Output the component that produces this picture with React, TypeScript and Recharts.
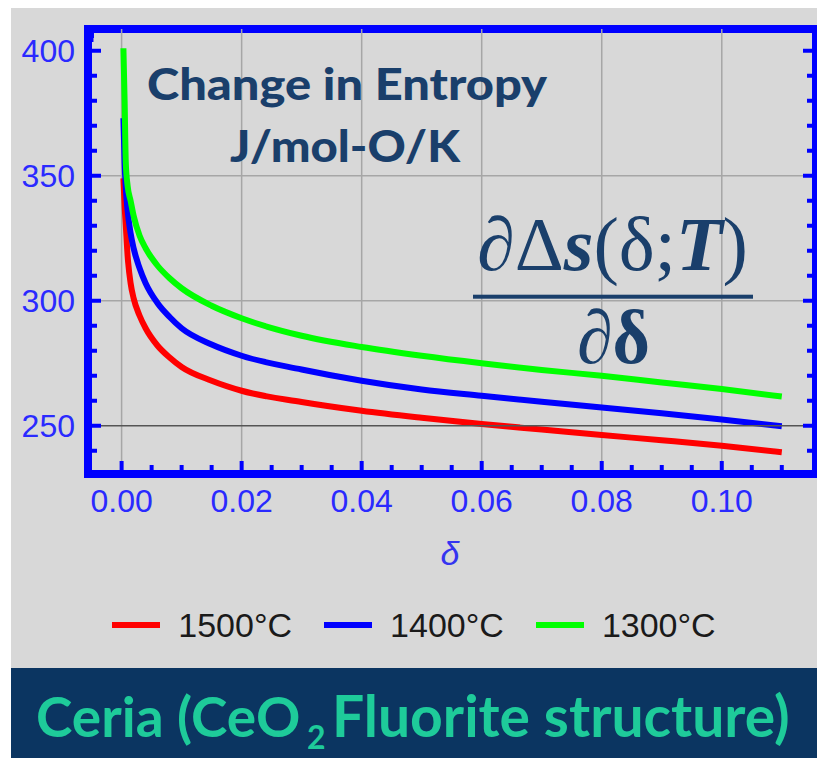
import { LineChart, Line, XAxis, YAxis, ReferenceLine, ReferenceArea, Legend } from 'recharts';

// delta (oxygen non-stoichiometry) sample points
const delta = [0.0003, 0.0005, 0.0007, 0.001, 0.0015, 0.002, 0.003, 0.004, 0.006, 0.008, 0.01, 0.015, 0.02, 0.03, 0.04, 0.05, 0.06, 0.07, 0.08, 0.09, 0.1, 0.11];

// d(delta S)/d(delta), J/mol-O/K
const s1500 = [349, 338, 330, 318, 307, 301, 294, 289, 282, 277.3, 273.5, 268, 264, 259.5, 256, 253.2, 250.7, 248.5, 246.3, 244.2, 242, 239.4];
const s1400 = [373, 355, 345, 336, 327, 321, 313, 307, 299, 293.5, 289, 282.5, 278, 272.5, 268, 264.5, 262, 259.6, 257.3, 255, 252.5, 249.8];
const s1300 = [401, 380, 355, 346, 340, 334, 326, 321, 314, 309, 305, 298, 293, 286, 281.5, 278, 275, 272.3, 270, 267.3, 264.7, 261.7];

const xTicks = [0, 0.005, 0.01, 0.015, 0.02, 0.025, 0.03, 0.035, 0.04, 0.045, 0.05, 0.055, 0.06, 0.065, 0.07, 0.075, 0.08, 0.085, 0.09, 0.095, 0.1, 0.105, 0.11];
const xMajor = [0, 0.02, 0.04, 0.06, 0.08, 0.1];
const yTicks = [240, 250, 260, 270, 280, 290, 300, 310, 320, 330, 340, 350, 360, 370, 380, 390, 400];
const yMajor = [250, 300, 350, 400];
const xGrid = [0, 0.02, 0.04, 0.06, 0.08, 0.1];
const yGrid = [300, 350];

const X_DOMAIN: [number, number] = [-0.0056, 0.1157];
const Y_DOMAIN: [number, number] = [230.7, 408.7];

const FRAME = '#0000ff';
const TICK_TEXT = '#2a2aff';
const TITLE = '#1a3f6b';
const BANNER_TEXT = '#1ecb9a';
const SANS = '"Liberation Sans", Arial, sans-serif';

const series = [
  { key: 't1500', name: '1500°C', color: '#ff0000' },
  { key: 't1400', name: '1400°C', color: '#0000ff' },
  { key: 't1300', name: '1300°C', color: '#00ff00' },
];

const data = delta.map((d, i) => ({ d, t1500: s1500[i], t1400: s1400[i], t1300: s1300[i] }));

const isIn = (list: number[], v: number) => list.some((t) => Math.abs(t - v) < 1e-9);

const BottomTick = ({ x, y, payload }: any) => {
  const major = isIn(xMajor, payload.value);
  return (
    <g>
      <line x1={x} y1={y} x2={x} y2={y - (major ? 13 : 9)} stroke={FRAME} strokeWidth={4} />
      {major && (
        <text x={x} y={y + 38} textAnchor="middle" fill={TICK_TEXT} fontSize={32} fontFamily={SANS}>
          {payload.value.toFixed(2)}
        </text>
      )}
    </g>
  );
};

const TopTick = ({ x, y, payload }: any) => {
  const major = isIn(xMajor, payload.value);
  return <line x1={x} y1={y} x2={x} y2={y + (major ? 13 : 9)} stroke={FRAME} strokeWidth={4} />;
};

const LeftTick = ({ x, y, payload }: any) => {
  const major = isIn(yMajor, payload.value);
  return (
    <g>
      <line x1={x} y1={y} x2={x + (major ? 13 : 9)} y2={y} stroke={FRAME} strokeWidth={4} />
      {major && (
        <text x={x - 13} y={y + 11} textAnchor="end" fill={TICK_TEXT} fontSize={32} fontFamily={SANS}>
          {payload.value}
        </text>
      )}
    </g>
  );
};

const RightTick = ({ x, y, payload }: any) => {
  const major = isIn(yMajor, payload.value);
  return <line x1={x} y1={y} x2={x - (major ? 13 : 9)} y2={y} stroke={FRAME} strokeWidth={4} />;
};

// legend keeps the series order (1500, 1400, 1300)
const renderLegend = () => (
  <div style={{ display: 'flex', justifyContent: 'center', alignItems: 'center', height: 34 }}>
    {series.map((s) => (
      <div key={s.key} style={{ display: 'flex', alignItems: 'center', margin: '0 16px' }}>
        <div style={{ width: 48, height: 6, background: s.color, marginRight: 18 }} />
        <span style={{ fontFamily: SANS, fontSize: 34, color: '#1a1a1a' }}>{s.name}</span>
      </div>
    ))}
  </div>
);

export default function App() {
  return (
    <div style={{ position: 'fixed', left: 11, top: 8, width: 806, height: 750, background: '#d8d8d8' }}>
      <LineChart width={806} height={660} data={data} margin={{ top: 0, right: 0, bottom: 0, left: 0 }}>
        <XAxis
          dataKey="d"
          type="number"
          domain={X_DOMAIN}
          allowDataOverflow
          ticks={xTicks}
          interval={0}
          height={194}
          axisLine={false}
          tickLine={false}
          tickSize={0}
          tickMargin={0}
          tick={<BottomTick />}
        />
        <XAxis
          xAxisId="top"
          orientation="top"
          type="number"
          domain={X_DOMAIN}
          allowDataOverflow
          ticks={xTicks}
          interval={0}
          height={21}
          axisLine={false}
          tickLine={false}
          tickSize={0}
          tickMargin={0}
          tick={<TopTick />}
        />
        <YAxis
          type="number"
          domain={Y_DOMAIN}
          allowDataOverflow
          ticks={yTicks}
          interval={0}
          width={77}
          axisLine={false}
          tickLine={false}
          tickSize={0}
          tickMargin={0}
          tick={<LeftTick />}
        />
        <YAxis
          yAxisId="right"
          orientation="right"
          type="number"
          domain={Y_DOMAIN}
          allowDataOverflow
          ticks={yTicks}
          interval={0}
          width={1}
          axisLine={false}
          tickLine={false}
          tickSize={0}
          tickMargin={0}
          tick={<RightTick />}
        />
        {xGrid.map((v) => (
          <ReferenceLine key={'gx' + v} x={v} stroke="#a6a6a6" strokeWidth={1.5} />
        ))}
        {yGrid.map((v) => (
          <ReferenceLine key={'gy' + v} y={v} stroke="#a6a6a6" strokeWidth={1.5} />
        ))}
        {series.map((s) => (
          <Line
            key={s.key}
            type="monotone"
            dataKey={s.key}
            name={s.name}
            stroke={s.color}
            strokeWidth={6}
            dot={false}
            isAnimationActive={false}
          />
        ))}
        <ReferenceLine y={250} stroke="#555555" strokeWidth={1.5} />
        <ReferenceArea
          x1={X_DOMAIN[0]}
          x2={X_DOMAIN[1]}
          y1={Y_DOMAIN[0]}
          y2={Y_DOMAIN[1]}
          fill="none"
          fillOpacity={0}
          stroke={FRAME}
          strokeWidth={8}
        />
        <Legend
          layout="horizontal"
          verticalAlign="middle"
          align="center"
          content={renderLegend}
          wrapperStyle={{ top: 600, left: 0, width: 806, height: 34 }}
        />
      </LineChart>
      <div style={{ position: 'absolute', left: 0, top: 660, width: 806, height: 90, background: '#0b3561' }} />
      <svg width={806} height={750} style={{ position: 'absolute', left: 0, top: 0, pointerEvents: 'none' }}>
        <text x={136} y={92} fontFamily="Lato, sans-serif" fontWeight="900" fontSize={44} fill={TITLE} textLength={400} lengthAdjust="spacingAndGlyphs">
          Change in Entropy
        </text>
        <text x={219} y={154} fontFamily="Lato, sans-serif" fontWeight="900" fontSize={44} fill={TITLE} textLength={230} lengthAdjust="spacingAndGlyphs">
          J/mol-O/K
        </text>
        <text x={466} y={262} fontFamily='"Liberation Serif", serif' fontSize={76} fill={TITLE} textLength={271} lengthAdjust="spacingAndGlyphs">
          <tspan fontWeight="bold" fontStyle="italic">∂</tspan>
          <tspan>Δ</tspan>
          <tspan fontWeight="bold" fontStyle="italic">s</tspan>
          <tspan>(δ;</tspan>
          <tspan fontWeight="bold" fontStyle="italic">T</tspan>
          <tspan>)</tspan>
        </text>
        <rect x={462} y={286.7} width={280} height={4} fill={TITLE} />
        <text x={566} y={355} fontFamily='"Liberation Serif", serif' fontSize={76} fontWeight="bold" fill={TITLE} textLength={73} lengthAdjust="spacingAndGlyphs">
          <tspan fontStyle="italic">∂</tspan>δ
        </text>
        <text x={439} y={557} textAnchor="middle" fontFamily={SANS} fontStyle="italic" fontSize={34} fill="#3434f0">
          δ
        </text>
        <text x={25} y={729} fontFamily="Lato, sans-serif" fontWeight="bold" fontSize={55} fill={BANNER_TEXT}>
          Ceria (CeO
        </text>
        <text x={296} y={741} fontFamily="Lato, sans-serif" fontWeight="bold" fontSize={32} fill={BANNER_TEXT}>
          2
        </text>
        <text x={321} y={729} fontFamily="Lato, sans-serif" fontWeight="bold" fontSize={57} fill={BANNER_TEXT}>
          Fluorite structure)
        </text>
      </svg>
    </div>
  );
}
